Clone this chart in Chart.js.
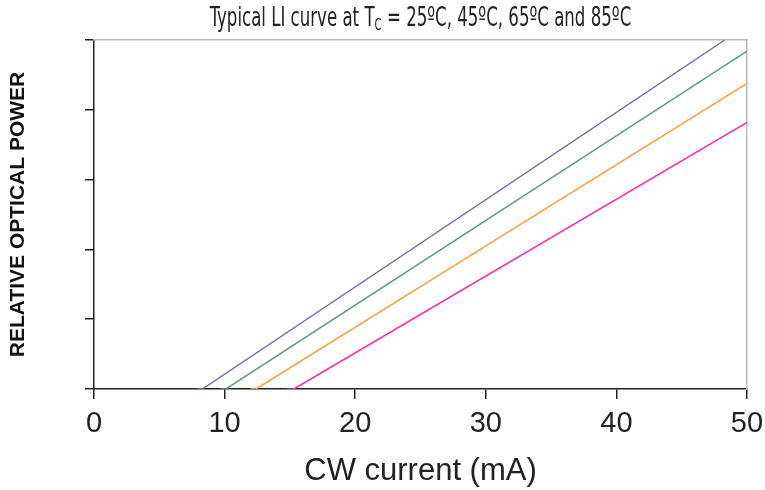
<!DOCTYPE html>
<html>
<head>
<meta charset="utf-8">
<script src="https://cdn.jsdelivr.net/npm/chart.js@4/dist/chart.umd.min.js"></script>
<style>
  body { margin: 0; background: #fff; }
  #wrap { position: relative; width: 765px; height: 490px; overflow: hidden; }
  #title {
    position: absolute; left: 0; top: 2px; width: 841px; text-align: center;
    font-family: "Liberation Sans Narrow", "DejaVu Sans Condensed", sans-serif;
    font-size: 26px; color: #222; white-space: nowrap;
    transform: scaleX(0.71); transform-origin: 420.5px 0;
  }
  #title sub { font-size: 16px; vertical-align: -4px; }
</style>
</head>
<body>
<div id="wrap">
  <canvas id="chart" width="765" height="490"></canvas>
  <div id="title">Typical LI curve at T<sub>C</sub> = 25ºC, 45ºC, 65ºC and 85ºC</div>
</div>
<script>
// series: current (mA) vs relative optical power
const seriesNames = ['25ºC', '45ºC', '65ºC', '85ºC'];
const seriesColors = ['#7a6fa8', '#5f9e7c', '#ffa040', '#ff2aa0'];
const currents = [
    [7.9, 8.3, 48.3],
    [9.7, 10.1, 50],
    [12.0, 12.4, 50],
    [14.8, 15.3, 50]
];
const powers = [
    [0, 0, 5.0],
    [0, 0, 4.84],
    [0, 0, 4.38],
    [0, 0, 3.82]
];
const xTicks = [0, 10, 20, 30, 40, 50];

const datasets = seriesNames.map((name, i) => ({
    label: name,
    data: currents[i].map((x, j) => ({ x: x, y: powers[i][j] })),
    borderColor: seriesColors[i],
    borderWidth: 1.5,
    pointRadius: 0,
    fill: false,
    tension: 0
}));

const frame = {
    display: true,
    grid: { drawOnChartArea: false, drawTicks: false },
    ticks: { display: false },
    border: { color: '#bbb', width: 1.5 }
};

new Chart(document.getElementById('chart'), {
    type: 'line',
    data: { datasets: datasets },
    options: {
        responsive: false,
        animation: false,
        layout: { padding: { top: 40, right: 18 } },
        plugins: { legend: { display: false }, tooltip: { enabled: false } },
        scales: {
            x: {
                type: 'linear',
                min: 0, max: 50,
                afterBuildTicks: s => { s.ticks = xTicks.map(v => ({ value: v })); },
                afterFit: s => { s.height = 101; s.paddingRight = 0; s.paddingLeft = 0; },
                grid: { drawOnChartArea: false, drawTicks: true, tickLength: 10, color: '#222', lineWidth: 1.5 },
                border: { color: '#222', width: 1.5 },
                ticks: { color: '#222', font: { family: 'Liberation Sans, Arial, sans-serif', size: 29 }, padding: 8, maxRotation: 0 },
                title: { display: true, text: 'CW current (mA)', color: '#222', font: { family: 'Liberation Sans, Arial, sans-serif', size: 31 }, padding: 0 }
            },
            y: {
                min: 0, max: 5,
                ticks: { stepSize: 1, display: false },
                afterFit: s => { s.width = 94; },
                grid: { drawOnChartArea: false, drawTicks: true, tickLength: 9, color: '#222', lineWidth: 1.5 },
                border: { color: '#222', width: 1.5 },
                title: { display: true, text: 'RELATIVE OPTICAL POWER', color: '#111', font: { family: 'Liberation Sans, Arial, sans-serif', size: 21, weight: 'bold' }, padding: { top: 6, bottom: 0 } }
            },
            x2: Object.assign({ position: 'top', type: 'linear', min: 0, max: 50, afterFit: s => { s.height = 0; } }, frame),
            y2: Object.assign({ position: 'right', min: 0, max: 5, afterFit: s => { s.width = 0; } }, frame)
        }
    }
});
</script>
</body>
</html>
